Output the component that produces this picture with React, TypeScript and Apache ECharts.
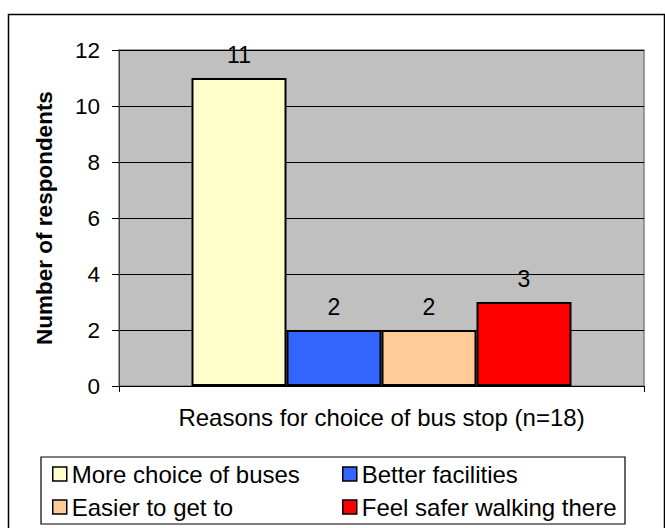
import React, { useEffect, useRef } from "react";
import * as echarts from "echarts";

const categories: string[] = [""];
const seriesNames: string[] = [
  "More choice of buses",
  "Better facilities",
  "Easier to get to",
  "Feel safer walking there",
];
const seriesValues: number[] = [11, 2, 2, 3];
const seriesColors: string[] = ["#FFFFCC", "#3366FF", "#FFCC99", "#FF0000"];
const yTicks: number[] = [0, 2, 4, 6, 8, 10, 12];
const yAxisTitle = "Number of respondents";
const xAxisTitle = "Reasons for choice of bus stop (n=18)";

const FONT = "'Liberation Sans', Arial, Helvetica, sans-serif";

export default function App() {
  const ref = useRef<HTMLDivElement>(null);
  useEffect(() => {
    if (!ref.current) return;
    const chart = echarts.init(ref.current, undefined, { renderer: "svg" });
    const legendPos = [
      { left: 52, top: 462 },
      { left: 342, top: 462 },
      { left: 52, top: 495 },
      { left: 342, top: 495 },
    ];
    chart.setOption({
      animation: false,
      backgroundColor: "#ffffff",
      textStyle: { fontFamily: FONT },
      grid: {
        left: 119,
        top: 50,
        right: 21,
        bottom: 142,
        show: true,
        backgroundColor: "#C0C0C0",
        borderColor: "#808080",
        borderWidth: 1.5,
      },
      xAxis: {
        type: "category",
        data: categories,
        name: xAxisTitle,
        nameLocation: "middle",
        nameGap: 19,
        nameTextStyle: { fontSize: 24, color: "#000", fontFamily: FONT },
        axisLine: { show: true, lineStyle: { color: "#000", width: 1 } },
        axisTick: { show: true, length: 6, lineStyle: { color: "#000" } },
        axisLabel: { show: false },
      },
      yAxis: {
        type: "value",
        min: yTicks[0],
        max: yTicks[yTicks.length - 1],
        interval: yTicks[1] - yTicks[0],
        name: yAxisTitle,
        nameLocation: "middle",
        nameGap: 63,
        nameTextStyle: {
          fontSize: 22.5,
          fontWeight: "bold",
          color: "#000",
          fontFamily: FONT,
        },
        axisLine: { show: true, lineStyle: { color: "#404040", width: 1 } },
        axisTick: { show: true, length: 7, lineStyle: { color: "#000" } },
        axisLabel: { fontSize: 22.5, color: "#000", margin: 19, fontFamily: FONT },
        splitLine: { show: true, lineStyle: { color: "#000", width: 1 } },
      },
      legend: seriesNames.map((n, i) => ({
        data: [n],
        left: legendPos[i].left,
        top: legendPos[i].top,
        padding: 0,
        itemWidth: 14,
        itemHeight: 14,
        icon: "rect",
        itemStyle: { borderColor: "#000", borderWidth: 1.5 },
        textStyle: { fontSize: 24, color: "#000", fontFamily: FONT },
        selectedMode: false,
      })),
      series: seriesNames.map((n, i) => ({
        name: n,
        type: "bar",
        data: [seriesValues[i]],
        barWidth: 95,
        barGap: "0%",
        itemStyle: {
          color: seriesColors[i],
          borderColor: "#000",
          borderWidth: 2,
        },
        label: {
          show: true,
          position: "top",
          distance: 12,
          fontSize: 23,
          color: "#000",
          fontFamily: FONT,
        },
      })),
      graphic: [
        {
          type: "rect",
          left: 6,
          top: 12,
          shape: { x: 0, y: 0, width: 656, height: 516 },
          style: { fill: "none", stroke: "#000", lineWidth: 1.5 },
          silent: true,
          z: -1,
        },
        {
          type: "rect",
          shape: { x: 41, y: 457, width: 584, height: 67 },
          style: { fill: "none", stroke: "#000", lineWidth: 1.2 },
          silent: true,
        },
      ],
    });
    return () => chart.dispose();
  }, []);
  return (
    <div
      ref={ref}
      style={{ position: "fixed", left: 0, top: 0, width: 665, height: 528 }}
    />
  );
}
